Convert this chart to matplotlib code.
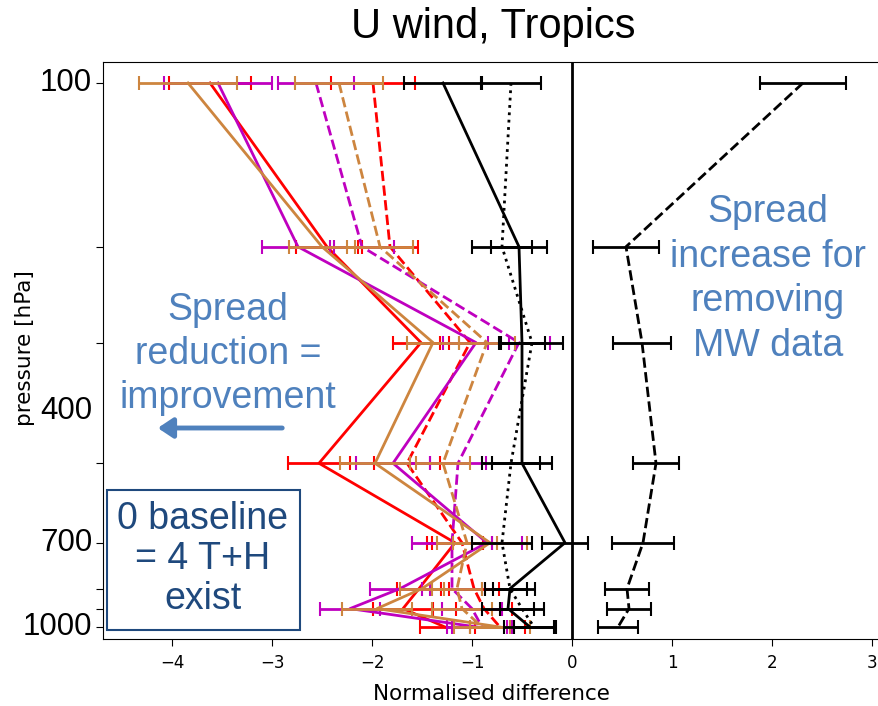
import matplotlib

matplotlib.use("Agg")
import matplotlib.pyplot as plt  # noqa: E402
import matplotlib.transforms as mtransforms  # noqa: E402
from matplotlib.patches import FancyArrowPatch, Rectangle  # noqa: E402

# pressure levels [hPa]
levels = [100, 200, 300, 500, 700, 850, 925, 1000]

# normalised spread differences and their error half-widths
red_solid = [-3.62, -2.45, -1.51, -2.53, -1.17, -1.53, -1.69, -1.27]
red_solid_err = [0.41, 0.31, 0.28, 0.31, 0.28, 0.22, 0.30, 0.25]
red_dash = [-1.99, -1.82, -1.02, -1.65, -1.10, -0.98, -0.88, -0.72]
red_dash_err = [0.42, 0.28, 0.30, 0.33, 0.30, 0.25, 0.28, 0.25]
mag_solid = [-3.54, -2.74, -0.96, -1.79, -0.85, -1.72, -2.22, -0.95]
mag_solid_err = [0.54, 0.36, 0.33, 0.37, 0.35, 0.30, 0.30, 0.30]
mag_dash = [-2.56, -2.10, -0.53, -1.14, -1.20, -1.20, -1.00, -0.90]
mag_dash_err = [0.38, 0.32, 0.31, 0.28, 0.40, 0.30, 0.30, 0.30]
org_solid = [-3.84, -2.50, -1.39, -1.97, -0.82, -1.50, -1.95, -0.72]
org_solid_err = [0.49, 0.33, 0.26, 0.35, 0.37, 0.22, 0.35, 0.30]
org_dash = [-2.33, -1.92, -0.85, -1.29, -1.05, -1.15, -1.10, -0.90]
org_dash_err = [0.44, 0.33, 0.28, 0.27, 0.30, 0.25, 0.30, 0.28]
blk_solid = [-1.29, -0.53, -0.50, -0.50, -0.07, -0.62, -0.64, -0.42]
blk_solid_err = [0.39, 0.28, 0.23, 0.30, 0.23, 0.25, 0.26, 0.26]
blk_dot = [-0.61, -0.70, -0.40, -0.61, -0.70, -0.62, -0.50, -0.38]
blk_dot_err = [0.30, 0.30, 0.31, 0.29, 0.30, 0.17, 0.22, 0.20]
mw_dash = [2.31, 0.54, 0.70, 0.84, 0.71, 0.55, 0.57, 0.46]
mw_dash_err = [0.43, 0.33, 0.29, 0.23, 0.31, 0.22, 0.22, 0.20]

big_ticks = [100, 400, 700, 1000]
x_ticks = [-4, -3, -2, -1, 0, 1, 2, 3]

RED, MAG, ORG, BLK = "#ff0000", "#bf00bf", "#cd853f", "#000000"
BLUE_TXT = "#4f81bd"
NAVY = "#1f497d"
H = 706  # figure height in px, pixel annotations measured from the top

fig = plt.figure(figsize=(8.79, 7.06), dpi=100)
ax = fig.add_axes([103 / 879, 67 / 706, 776 / 879, 577 / 706])

series = [
    (red_solid, red_solid_err, RED, "-"),
    (red_dash, red_dash_err, RED, "--"),
    (mag_solid, mag_solid_err, MAG, "-"),
    (mag_dash, mag_dash_err, MAG, "--"),
    (org_solid, org_solid_err, ORG, "-"),
    (org_dash, org_dash_err, ORG, "--"),
    (blk_solid, blk_solid_err, BLK, "-"),
    (blk_dot, blk_dot_err, BLK, ":"),
    (mw_dash, mw_dash_err, BLK, "--"),
]
for z, (vals, err, col, ls) in enumerate(series):
    ax.errorbar(vals, levels, xerr=err, color=col, ls=ls, lw=2, elinewidth=2,
                capsize=5, capthick=1.5, zorder=3 + z * 0.1)

ax.axvline(0, color="k", lw=2, zorder=2)

ax.set_yscale("log")
ax.set_ylim(1052, 91.5)
ax.set_xlim(-4.69, 3.07)
ax.set_yticks(levels)
ax.set_yticklabels([])
ax.minorticks_off()
ax.set_xticks(x_ticks)
ax.set_xticklabels([f"\u2212{abs(t)}" if t < 0 else str(t) for t in x_ticks])
ax.tick_params(axis="x", labelsize=12, length=5, pad=5.5)
ax.tick_params(axis="y", length=5)
ax.set_xlabel("Normalised difference", fontsize=15.5, labelpad=9)
ax.set_ylabel("pressure [hPa]", fontsize=15.5)
ax.yaxis.set_label_coords(-0.087, 0.505)

# big pressure labels pasted over the axis
trans = mtransforms.blended_transform_factory(ax.transAxes, ax.transData)
for p in big_ticks:
    ax.text(-0.014, p, str(p), transform=trans, ha="right", va="center",
            fontsize=22.5, family="Liberation Sans")

fig.text(493 / 879, 1 - 27 / H, "U wind, Tropics", ha="center", va="center",
         fontsize=30, family="Liberation Sans")

fig.text(228 / 879, 1 - 354 / H, "Spread\nreduction =\nimprovement", ha="center",
         va="center", fontsize=27, color=BLUE_TXT, family="Liberation Sans",
         linespacing=1.3)
fig.text(768 / 879, 1 - 279 / H, "Spread\nincrease for\nremoving\nMW data",
         ha="center", va="center", fontsize=27, color=BLUE_TXT,
         family="Liberation Sans", linespacing=1.3)

arrow = FancyArrowPatch((285, H - 428), (155, H - 428), transform=None,
                        arrowstyle="-|>,head_length=9,head_width=6", color=BLUE_TXT,
                        lw=3.5, mutation_scale=1)
fig.patches.append(arrow)

box = Rectangle((107, H - 630), 193, 140, transform=None, facecolor="white",
                edgecolor=NAVY, lw=1.5, zorder=10)
fig.patches.append(box)
fig.text(203 / 879, 1 - 559 / H, "0 baseline\n= 4 T+H\nexist", ha="center",
         va="center", fontsize=27, color=NAVY, family="Liberation Sans",
         linespacing=1.13, zorder=11)

fig.savefig("out.png", dpi=100)
